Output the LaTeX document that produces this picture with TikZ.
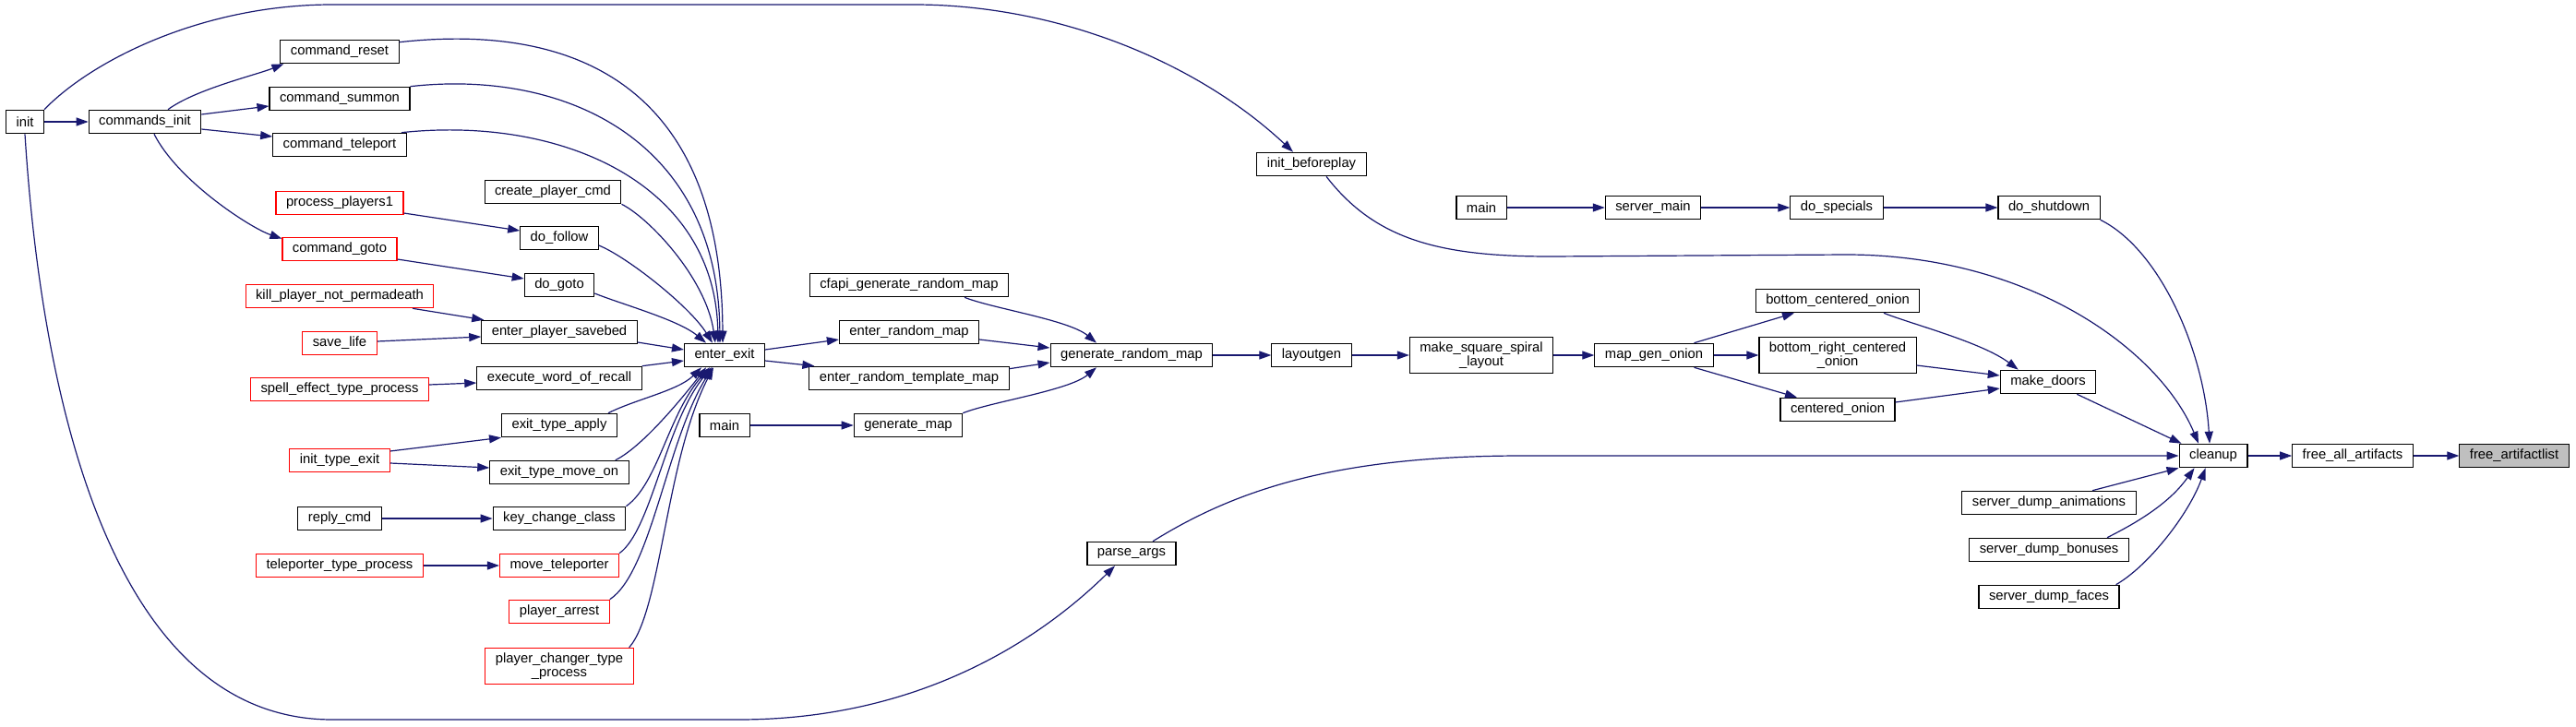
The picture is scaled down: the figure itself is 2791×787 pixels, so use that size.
\documentclass[tikz,border=0pt]{standalone}
\usepackage{fontspec}
\setmainfont{Liberation Sans}
\usetikzlibrary{arrows.meta}
\definecolor{edgeblue}{HTML}{191970}
\definecolor{rootgray}{HTML}{BFBFBF}

\begin{document}
\begin{tikzpicture}[x=1pt, y=-1pt,
    fnbox/.style={draw=black, fill=white, line width=1.1pt, inner xsep=11pt, inner ysep=5pt,
        minimum height=25.5pt, align=center, font=\fontsize{14.8}{15.5}\selectfont},
    truncbox/.style={fnbox, draw=red},
    rootbox/.style={fnbox, fill=rootgray},
    calledge/.style={draw=edgeblue, line width=1.2pt, -{Triangle[length=13pt,width=9pt]}}]
    \useasboundingbox (0,0) rectangle (2791,787);

    % Left columns
    \node[fnbox] (init) at (27,132) {init};
    \node[fnbox] (cmdsinit) at (157,132) {commands\_init};
    \node[fnbox] (cmdreset) at (368,56) {command\_reset};
    \node[fnbox] (cmdsummon) at (368,107) {command\_summon};
    \node[fnbox] (cmdteleport) at (368,157) {command\_teleport};
    \node[truncbox] (procplayers) at (368,220) {process\_players1};
    \node[truncbox] (cmdgoto) at (368,270) {command\_goto};
    \node[truncbox] (killplayer) at (368,321) {kill\_player\_not\_permadeath};
    \node[truncbox] (savelife) at (368,372) {save\_life};
    \node[truncbox] (spelleffect) at (368,422) {spell\_effect\_type\_process};
    \node[truncbox] (inittypeexit) at (368,499) {init\_type\_exit};
    \node[fnbox] (replycmd) at (368,562) {reply\_cmd};
    \node[truncbox] (teleporterproc) at (368,613) {teleporter\_type\_process};
    \node[fnbox] (createcmd) at (599,208) {create\_player\_cmd};
    \node[fnbox] (dofollow) at (606,258) {do\_follow};
    \node[fnbox] (dogoto) at (606,309) {do\_goto};
    \node[fnbox] (savebed) at (606,360) {enter\_player\_savebed};
    \node[fnbox] (recall) at (606,410) {execute\_word\_of\_recall};
    \node[fnbox] (exitapply) at (606,461) {exit\_type\_apply};
    \node[fnbox] (exitmoveon) at (606,512) {exit\_type\_move\_on};
    \node[fnbox] (keychange) at (606,562) {key\_change\_class};
    \node[truncbox] (moveteleporter) at (606,613) {move\_teleporter};
    \node[truncbox] (playerarrest) at (606,663) {player\_arrest};
    \node[truncbox] (changerproc) at (606,722) {player\_changer\_type\\\_process};

    % Middle
    \node[fnbox] (enterexit) at (785,385) {enter\_exit};
    \node[fnbox] (mainB) at (785,461) {main};
    \node[fnbox] (cfapi) at (985,309) {cfapi\_generate\_random\_map};
    \node[fnbox] (enterrandom) at (985,360) {enter\_random\_map};
    \node[fnbox] (enterrandomtpl) at (985,410) {enter\_random\_template\_map};
    \node[fnbox] (genmap) at (984,461) {generate\_map};
    \node[fnbox] (genrandom) at (1226,385) {generate\_random\_map};
    \node[fnbox] (parseargs) at (1226,600) {parse\_args};
    \node[fnbox] (initbefore) at (1421,178) {init\_beforeplay};
    \node[fnbox] (layoutgen) at (1421,385) {layoutgen};
    \node[fnbox] (mainA) at (1605,225) {main};
    \node[fnbox] (spiral) at (1605,385) {make\_square\_spiral\\\_layout};
    \node[fnbox] (servermain) at (1791,225) {server\_main};
    \node[fnbox] (mapgenonion) at (1792,385) {map\_gen\_onion};

    % Right
    \node[fnbox] (dospecials) at (1990,225) {do\_specials};
    \node[fnbox] (bottomonion) at (1991,326) {bottom\_centered\_onion};
    \node[fnbox] (bottomright) at (1991,385) {bottom\_right\_centered\\\_onion};
    \node[fnbox] (centeredonion) at (1991,444) {centered\_onion};
    \node[fnbox] (doshutdown) at (2220,225) {do\_shutdown};
    \node[fnbox] (makedoors) at (2219,414) {make\_doors};
    \node[fnbox] (dumpanim) at (2220,545) {server\_dump\_animations};
    \node[fnbox] (dumpbonus) at (2220,596) {server\_dump\_bonuses};
    \node[fnbox] (dumpfaces) at (2220,647) {server\_dump\_faces};
    \node[fnbox] (cleanup) at (2398,494) {cleanup};
    \node[fnbox] (freeall) at (2549,494) {free\_all\_artifacts};
    \node[rootbox] (freelist) at (2724,494) {free\_artifactlist};

    % init and commands_init
    \draw[calledge] (init) -- (cmdsinit);
    \draw[calledge] (init.north east) .. controls (100,65) and (220,5) .. (360,5) -- (990,5)
        .. controls (1150,5) and (1300,70) .. ([xshift=-20pt]initbefore.north);
    \draw[calledge] (init.south) .. controls (45,430) and (120,780) .. (360,780) -- (800,780)
        .. controls (1000,780) and (1130,690) .. ([xshift=-18pt]parseargs.south);
    \draw[calledge] ([xshift=25pt]cmdsinit.north) .. controls +(30,-22) and +(-30,12) .. ([xshift=4pt]cmdreset.south west);
    \draw[calledge] ([yshift=8pt]cmdsinit.east) -- ([yshift=-8pt]cmdsummon.west);
    \draw[calledge] ([yshift=-8pt]cmdsinit.east) -- ([yshift=9pt]cmdteleport.west);
    \draw[calledge] ([xshift=10pt]cmdsinit.south) .. controls +(25,50) and +(-35,-12) .. ([yshift=-2pt]cmdgoto.north west);

    % Into enter_exit from above
    \draw[calledge] ([yshift=-3pt]cmdreset.north east) .. controls (620,25) and (782,90) .. ([xshift=-2pt]enterexit.north);
    \draw[calledge] (cmdsummon.north east) .. controls (610,75) and (778,150) .. ([xshift=-5pt]enterexit.north);
    \draw[calledge] ([xshift=-6pt]cmdteleport.north east) .. controls (610,125) and (775,200) .. ([xshift=-7pt]enterexit.north);
    \draw[calledge] (createcmd.south east) .. controls +(30,15) and +(-10,-70) .. ([xshift=-10pt]enterexit.north);
    \draw[calledge] ([yshift=-8pt]dofollow.east) .. controls +(30,12) and +(-25,-40) .. ([xshift=-13pt]enterexit.north);
    \draw[calledge] ([yshift=-9pt]dogoto.east) .. controls +(30,12) and +(-30,-25) .. ([xshift=-20pt]enterexit.north);

    % Left-hand callers
    \draw[calledge] ([yshift=-11pt]procplayers.east) -- ([yshift=8pt]dofollow.west);
    \draw[calledge] ([yshift=-11pt]cmdgoto.east) -- ([yshift=7pt]dogoto.west);
    \draw[calledge] ([xshift=79pt]killplayer.south) -- ([xshift=3pt]savebed.north west);
    \draw[calledge] ([yshift=2pt]savelife.east) -- ([yshift=-5pt]savebed.west);
    \draw[calledge] ([yshift=-11pt]savebed.east) -- ([yshift=6pt]enterexit.west);
    \draw[calledge] ([yshift=5pt]spelleffect.east) -- ([yshift=-5pt]recall.west);
    \draw[calledge] (recall.north east) -- ([yshift=-6pt]enterexit.west);
    \draw[calledge] ([yshift=10pt]inittypeexit.east) -- (exitapply.south west);
    \draw[calledge] ([yshift=-3pt]inittypeexit.east) -- ([yshift=5pt]exitmoveon.west);
    \draw[calledge] (replycmd) -- (keychange);
    \draw[calledge] (teleporterproc) -- (moveteleporter);

    % Into enter_exit from below
    \draw[calledge] ([xshift=-10pt]exitapply.north east) .. controls +(30,-15) and +(-25,25) .. ([xshift=-25pt]enterexit.south);
    \draw[calledge] ([xshift=-15pt]exitmoveon.north east) .. controls +(25,-12) and +(-35,45) .. ([xshift=-20pt]enterexit.south);
    \draw[calledge] (keychange.north east) .. controls +(35,-25) and +(-45,50) .. ([xshift=-16pt]enterexit.south);
    \draw[calledge] (moveteleporter.north east) .. controls +(35,-25) and +(-50,60) .. ([xshift=-14pt]enterexit.south);
    \draw[calledge] (playerarrest.north east) .. controls +(45,-30) and +(-50,80) .. ([xshift=-13pt]enterexit.south);
    \draw[calledge] ([xshift=-5pt]changerproc.north east) .. controls +(35,-40) and +(-52,100) .. ([xshift=-12pt]enterexit.south);

    % enter_exit to generate_random_map
    \draw[calledge] ([yshift=6pt]enterexit.east) -- ([yshift=-8pt]enterrandom.west);
    \draw[calledge] ([yshift=-6pt]enterexit.east) -- ([xshift=6pt]enterrandomtpl.north west);
    \draw[calledge] ([xshift=60pt]cfapi.south) .. controls +(30,12) and +(-30,-25) .. ([xshift=-38pt]genrandom.north);
    \draw[calledge] ([yshift=-8pt]enterrandom.east) -- ([yshift=8pt]genrandom.west);
    \draw[calledge] ([yshift=-3pt]enterrandomtpl.north east) -- ([yshift=-8pt]genrandom.west);
    \draw[calledge] (mainB) -- (genmap);
    \draw[calledge] (genmap.north east) .. controls +(30,-12) and +(-30,25) .. ([xshift=-38pt]genrandom.south);

    % generate_random_map to make_doors
    \draw[calledge] (genrandom) -- (layoutgen);
    \draw[calledge] (layoutgen) -- (spiral);
    \draw[calledge] (spiral) -- (mapgenonion);
    \draw[calledge] (mapgenonion.17) -- ([xshift=-47pt]bottomonion.south);
    \draw[calledge] (mapgenonion) -- (bottomright);
    \draw[calledge] (mapgenonion.-17) -- ([xshift=-44pt]centeredonion.north);
    \draw[calledge] ([xshift=50pt]bottomonion.south) .. controls +(30,12) and +(-40,-30) .. ([xshift=20pt]makedoors.north west);
    \draw[calledge] ([yshift=-11pt]bottomright.east) -- ([yshift=7pt]makedoors.west);
    \draw[calledge] ([yshift=8pt]centeredonion.east) -- ([yshift=-7pt]makedoors.west);

    % Into cleanup
    \draw[calledge] (mainA) -- (servermain);
    \draw[calledge] (servermain) -- (dospecials);
    \draw[calledge] (dospecials) -- (doshutdown);
    \draw[calledge] (makedoors.-23) -- ([xshift=3pt]cleanup.north west);
    \draw[calledge] (doshutdown.south east) .. controls (2340,270) and (2388,380) .. ([xshift=-4pt]cleanup.north);
    \draw[calledge] ([xshift=16pt]initbefore.south) .. controls (1490,260) and (1560,278) .. (1680,278) -- (2000,276)
        .. controls (2200,276) and (2340,380) .. ([xshift=-16pt]cleanup.north);
    \draw[calledge] (parseargs.30) .. controls (1340,530) and (1450,494) .. (1650,494) -- (cleanup);
    \draw[calledge] ([xshift=47pt]dumpanim.north) -- (cleanup.south west);
    \draw[calledge] ([xshift=63pt]dumpbonus.north) .. controls +(40,-20) and +(-25,35) .. ([xshift=17pt]cleanup.south west);
    \draw[calledge] ([xshift=-4pt]dumpfaces.north east) .. controls +(35,-20) and +(-18,50) .. ([xshift=29pt]cleanup.south west);
    \draw[calledge] (cleanup) -- (freeall);
    \draw[calledge] (freeall) -- (freelist);
\end{tikzpicture}
\end{document}
